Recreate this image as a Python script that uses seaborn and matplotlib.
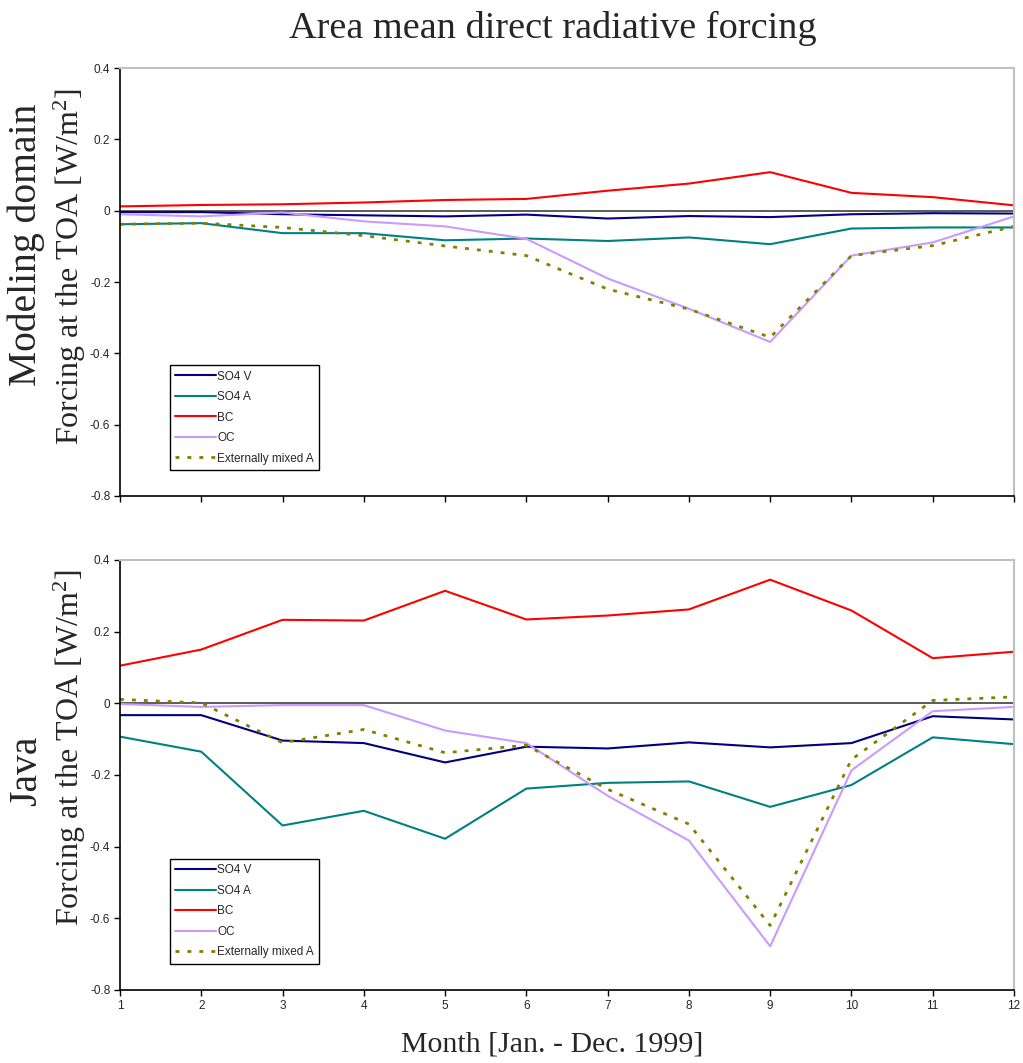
import matplotlib
matplotlib.use("Agg")
import matplotlib.pyplot as plt
import seaborn as sns
import numpy as np

months = list(range(1, 13))
series_names = ["SO4 V", "SO4 A", "BC", "OC", "Externally mixed A"]

# Modeling domain
dom_so4v = [-0.004, -0.004, -0.010, -0.013, -0.016, -0.011, -0.022, -0.015, -0.018, -0.010, -0.007, -0.008]
dom_so4a = [-0.038, -0.035, -0.063, -0.063, -0.083, -0.078, -0.085, -0.075, -0.094, -0.050, -0.047, -0.047]
dom_bc   = [0.012, 0.016, 0.018, 0.023, 0.030, 0.033, 0.056, 0.076, 0.108, 0.050, 0.038, 0.015]
dom_oc   = [-0.010, -0.016, -0.005, -0.030, -0.044, -0.079, -0.190, -0.275, -0.368, -0.126, -0.089, -0.016]
dom_ext  = [-0.038, -0.035, -0.047, -0.070, -0.099, -0.126, -0.220, -0.276, -0.355, -0.126, -0.098, -0.044]

# Java
java_so4v = [-0.033, -0.033, -0.104, -0.111, -0.165, -0.121, -0.126, -0.109, -0.123, -0.111, -0.036, -0.045]
java_so4a = [-0.093, -0.135, -0.341, -0.300, -0.378, -0.238, -0.222, -0.218, -0.289, -0.228, -0.095, -0.114]
java_bc   = [0.105, 0.150, 0.233, 0.231, 0.314, 0.234, 0.245, 0.262, 0.345, 0.259, 0.126, 0.144]
java_oc   = [-0.002, -0.010, -0.005, -0.005, -0.076, -0.111, -0.258, -0.383, -0.678, -0.187, -0.022, -0.010]
java_ext  = [0.011, 0.001, -0.110, -0.073, -0.138, -0.117, -0.240, -0.337, -0.620, -0.157, 0.008, 0.018]

yticks = [0.4, 0.2, 0, -0.2, -0.4, -0.6, -0.8]
ytick_labels = ["0.4", "0.2", "0", "-0.2", "-0.4", "-0.6", "-0.8"]

colors = ["#000080", "#008080", "#FF0000", "#CC99FF", "#808000"]
styles = ["-", "-", "-", "-", (0, (1.4, 2.9))]
widths = [1.5, 1.5, 1.5, 1.5, 2.0]

sns.set_theme(style="white")
plt.rcParams["font.family"] = ["Liberation Sans", "DejaVu Sans"]
plt.rcParams["mathtext.fontset"] = "custom"
plt.rcParams["mathtext.rm"] = "Liberation Serif"
plt.rcParams["mathtext.it"] = "Liberation Serif:italic"
plt.rcParams["mathtext.bf"] = "Liberation Serif:bold"

fig = plt.figure(figsize=(10.23, 10.63), dpi=100)
ax_top = fig.add_axes([0.1173, 0.5334, 0.8739, 0.4026])
ax_bot = fig.add_axes([0.1173, 0.0687, 0.8739, 0.4045])

def draw(ax, data, show_xlabels):
    for name, vals, c, ls, lw in zip(series_names, data, colors, styles, widths):
        sns.lineplot(x=months, y=vals, ax=ax, color=c, linestyle=ls, linewidth=lw, label=name)
    ax.axhline(0, color="#404040", lw=1.2, zorder=1)
    ax.set_xlim(1, 12)
    ax.set_ylim(-0.8, 0.4)
    ax.set_yticks(yticks)
    ax.set_yticklabels(ytick_labels)
    ax.set_xticks(months)
    if show_xlabels:
        ax.set_xticklabels([str(m) for m in months])
    else:
        ax.set_xticklabels([])
    ax.tick_params(axis="both", which="both", direction="out", length=4, width=1,
                   color="black", labelsize=8.5, pad=3, left=True, bottom=True)
    for s in ["left", "bottom"]:
        ax.spines[s].set_color("black")
        ax.spines[s].set_linewidth(1.2)
    for s in ["top", "right"]:
        ax.spines[s].set_color("#c0c0c0")
        ax.spines[s].set_linewidth(1.5)
    ax.set_xlabel("")
    ax.set_ylabel("")
    leg = ax.legend(loc="lower left", bbox_to_anchor=(0.056, 0.061), fontsize=8.5,
                    frameon=True, fancybox=False, edgecolor="black", framealpha=1,
                    handlelength=3.4, handletextpad=0.15, labelspacing=0.72,
                    borderpad=0.45, borderaxespad=0)
    leg.get_frame().set_linewidth(1.0)

draw(ax_top, [dom_so4v, dom_so4a, dom_bc, dom_oc, dom_ext], False)
draw(ax_bot, [java_so4v, java_so4a, java_bc, java_oc, java_ext], True)

serif = ["Liberation Serif", "DejaVu Serif"]
ylab = "Forcing at the TOA [W/m$^{\\mathregular{2}}$]"
fig.text(0.54, 1 - 28 / 1063, "Area mean direct radiative forcing", ha="center", va="center",
         fontsize=27.5, family=serif)
fig.text(0.026, 1 - 245 / 1063, "Modeling domain", rotation=90, ha="center", va="center",
         fontsize=28.5, family=serif)
fig.text(0.068, 1 - 267 / 1063, ylab, rotation=90, ha="center",
         va="center", fontsize=23, family=serif)
fig.text(0.026, 1 - 771 / 1063, "Java", rotation=90, ha="center", va="center",
         fontsize=28.5, family=serif)
fig.text(0.068, 1 - 748 / 1063, ylab, rotation=90, ha="center",
         va="center", fontsize=23, family=serif)
fig.text(0.54, 1 - 1045 / 1063, "Month [Jan. - Dec. 1999]", ha="center", va="center",
         fontsize=21.5, family=serif)

fig.savefig("out.png", dpi=100)
